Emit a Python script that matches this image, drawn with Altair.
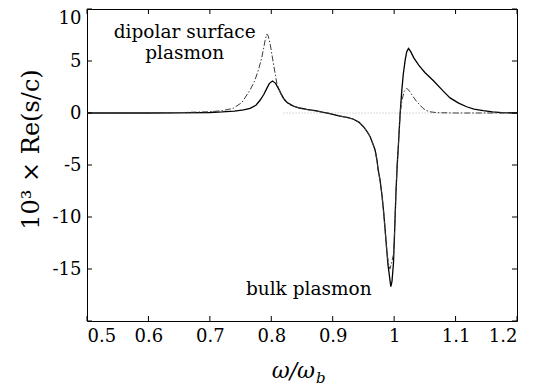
import altair as alt
import pandas as pd

# ---- data ----
solid_x = [0.50, 0.60, 0.65, 0.70, 0.72, 0.74, 0.755, 0.7655, 0.775, 0.782, 0.788, 0.7927, 0.797,
           0.802, 0.807, 0.8116, 0.816, 0.82, 0.826, 0.836, 0.846, 0.8578, 0.874, 0.885, 0.895,
           0.912, 0.925, 0.934, 0.943, 0.950, 0.956, 0.961, 0.965, 0.969, 0.972, 0.974, 0.977,
           0.980, 0.9826, 0.985, 0.988, 0.990, 0.9924, 0.9946, 0.9965, 0.9989, 1.0003, 1.0016,
           1.003, 1.005, 1.0075, 1.0098, 1.0125, 1.015, 1.018, 1.0205, 1.0233, 1.027, 1.032,
           1.04, 1.05, 1.064, 1.08, 1.091, 1.105, 1.118, 1.13, 1.145, 1.16, 1.175, 1.2]
solid_y = [0.0, 0.0, 0.02, 0.05, 0.1, 0.18, 0.3, 0.45, 0.75, 1.25, 1.8, 2.37, 2.85,
           3.08, 2.85, 2.37, 1.85, 1.41, 1.0, 0.67, 0.48, 0.35, 0.2, 0.05, -0.05,
           -0.29, -0.45, -0.6, -0.9, -1.32, -1.8, -2.28, -2.9, -3.56, -4.5, -5.48, -6.44,
           -7.8, -9.33, -11.0, -13.2, -14.6, -15.7, -16.7, -16.2, -14.45, -12.2, -9.97,
           -7.6, -5.0, -2.5, 0.0, 2.2, 3.8, 5.1, 5.9, 6.2, 5.9, 5.3,
           4.6, 3.9, 3.1, 2.1, 1.45, 0.95, 0.6, 0.38, 0.22, 0.1, 0.04, 0.0]

dash_x = [0.50, 0.60, 0.65, 0.70, 0.72, 0.738, 0.752, 0.7655, 0.773, 0.779, 0.784, 0.787, 0.790,
          0.7927, 0.795, 0.798, 0.8034, 0.809, 0.817, 0.823, 0.8306, 0.847, 0.8686, 0.885, 0.895,
          0.912, 0.925, 0.934, 0.943, 0.950, 0.956, 0.961, 0.965, 0.969, 0.972, 0.974, 0.977,
          0.980, 0.9826, 0.985, 0.988, 0.9905, 0.993, 0.9955, 0.9989, 1.0003, 1.0016, 1.003,
          1.005, 1.0075, 1.0098, 1.013, 1.0165, 1.0207, 1.025, 1.031, 1.036, 1.042, 1.047,
          1.053, 1.06, 1.07, 1.1, 1.2]
dash_y = [0.0, 0.01, 0.04, 0.12, 0.22, 0.45, 1.0, 2.21, 3.1, 4.13, 5.2, 6.06, 7.0,
          7.6, 7.4, 6.7, 4.78, 2.86, 1.57, 1.1, 0.77, 0.45, 0.22, 0.07, -0.04,
          -0.29, -0.45, -0.6, -0.9, -1.32, -1.8, -2.28, -2.9, -3.56, -4.5, -5.48, -6.44,
          -7.8, -9.33, -11.0, -13.2, -14.4, -15.0, -14.5, -13.6, -12.0, -9.9, -7.6,
          -5.0, -2.5, 0.0, 1.3, 2.1, 2.37, 2.1, 1.57, 1.15, 0.77, 0.45,
          0.22, 0.1, 0.03, 0.0, 0.0]

zero_x = [0.82, 1.2]
zero_y = [0.0, 0.0]

x_ticks = [0.5, 0.6, 0.7, 0.8, 0.9, 1.0, 1.1, 1.2]
y_ticks = [-20, -15, -10, -5, 0, 5, 10]
y_label_values = [-15, -10, -5, 0, 5, 10]

ann_text = ["dipolar surface", "plasmon", "bulk plasmon"]
ann_x = [0.659, 0.659, 0.861]
ann_y = [7.2, 5.2, -17.5]

FONT = "DejaVu Serif"
W, H = 430, 312
TL = 5

df_solid = pd.DataFrame({"x": solid_x, "y": solid_y})
df_dash = pd.DataFrame({"x": dash_x, "y": dash_y})
df_zero = pd.DataFrame({"x": zero_x, "y": zero_y})
df_ann = pd.DataFrame({"x": ann_x, "y": ann_y, "t": ann_text})
df_xt = pd.DataFrame({"v": x_ticks})
df_yt = pd.DataFrame({"v": y_ticks})

xs = alt.Scale(domain=[0.5, 1.2], nice=False, zero=False)
ys = alt.Scale(domain=[-20, 10], nice=False, zero=False)

zero_layer = alt.Chart(df_zero).mark_line(color="#b5b5b5", strokeDash=[1, 2], strokeWidth=1).encode(
    x=alt.X("x:Q", scale=xs, axis=alt.Axis(
        orient="bottom", values=x_ticks, labelExpr="'' + datum.value", domain=False, ticks=False,
        tickSize=0, grid=False, labelFont=FONT, labelFontSize=18, labelColor="black",
        labelPadding=6, title=None)),
    y=alt.Y("y:Q", scale=ys, axis=alt.Axis(
        orient="left", values=y_label_values, labelExpr="'' + datum.value", domain=False,
        ticks=False, tickSize=0, grid=False, labelFont=FONT, labelFontSize=18, labelColor="black",
        labelPadding=6,
        labelBaseline={"condition": {"test": "datum.value == 10", "value": "top"}, "value": "middle"},
        title="10³ × Re(s/c)", titleFont=FONT, titleFontSize=24, titleFontWeight="normal",
        titleColor="black", titleX=-56, titleY=140, titleBaseline="middle", titleAlign="center")),
)

solid_layer = alt.Chart(df_solid).mark_line(color="black", strokeWidth=1.3).encode(
    x=alt.X("x:Q", scale=xs, axis=None),
    y=alt.Y("y:Q", scale=ys, axis=None),
)

dash_layer = alt.Chart(df_dash).mark_line(color="#3a3a3a", strokeWidth=1, strokeDash=[6, 2, 1.5, 2]).encode(
    x=alt.X("x:Q", scale=xs, axis=None),
    y=alt.Y("y:Q", scale=ys, axis=None),
)

tick_style = dict(color="black", strokeWidth=1)
bottom_ticks = alt.Chart(df_xt).mark_rule(**tick_style).encode(
    x=alt.X("v:Q", scale=xs, axis=None), y=alt.value(H), y2=alt.value(H - TL))
top_ticks = alt.Chart(df_xt).mark_rule(**tick_style).encode(
    x=alt.X("v:Q", scale=xs, axis=None), y=alt.value(0), y2=alt.value(TL))
left_ticks = alt.Chart(df_yt).mark_rule(**tick_style).encode(
    y=alt.Y("v:Q", scale=ys, axis=None), x=alt.value(0), x2=alt.value(TL))
right_ticks = alt.Chart(df_yt).mark_rule(**tick_style).encode(
    y=alt.Y("v:Q", scale=ys, axis=None), x=alt.value(W), x2=alt.value(W - TL))

ann_layer = alt.Chart(df_ann).mark_text(font=FONT, fontSize=18.5, color="black", align="center",
                                        baseline="alphabetic").encode(
    x=alt.X("x:Q", scale=xs, axis=None),
    y=alt.Y("y:Q", scale=ys, axis=None),
    text="t:N",
)

xt1 = alt.Chart(pd.DataFrame({"t": ["ω/ω"]})).mark_text(
    font=FONT, fontSize=22, fontStyle="italic", color="black", align="right", baseline="alphabetic"
).encode(x=alt.value(228), y=alt.value(369), text="t:N")
xt2 = alt.Chart(pd.DataFrame({"t": ["b"]})).mark_text(
    font=FONT, fontSize=15, fontStyle="italic", color="black", align="left", baseline="alphabetic"
).encode(x=alt.value(229), y=alt.value(374), text="t:N")

chart = alt.layer(zero_layer, solid_layer, dash_layer, bottom_ticks, top_ticks, left_ticks,
                  right_ticks, ann_layer, xt1, xt2).resolve_axis(
    x="independent", y="independent"
).properties(
    width=W, height=H,
    autosize=alt.AutoSizeParams(type="none"),
    padding={"left": 79, "top": 1, "right": 18, "bottom": 80},
    background="white",
).configure_view(stroke="black", strokeWidth=1)

chart.save("out.html", embed_options={"renderer": "svg", "actions": False})
